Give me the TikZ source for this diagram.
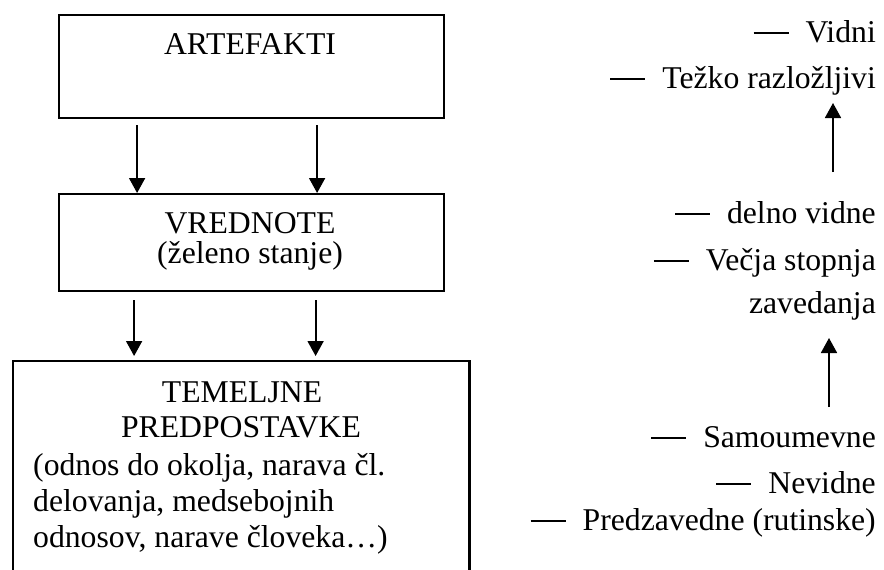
\documentclass[tikz,border=0pt]{standalone}
\usepackage{fontspec}
\setmainfont{Liberation Serif}
\usetikzlibrary{arrows.meta}
\newcommand{\dsh}{\rule[8.5pt]{35pt}{1.4pt}\hspace{17pt}}
\begin{document}
\begin{tikzpicture}[x=1pt,y=-1pt,
  txt/.style={font=\fontsize{31.7}{38}\selectfont, inner sep=0pt},
  boxst/.style={draw, line width=2.2pt, inner sep=0pt, anchor=north west},
  arr/.style={line width=1.8pt, -{Triangle[length=15pt,width=16pt]}}]
\useasboundingbox (0,0) rectangle (884,570);
% boxes
\node[boxst, minimum width=385pt, minimum height=103pt] (art) at (58,14) {};
\node[boxst, minimum width=385pt, minimum height=97pt] (vr) at (58,193) {};
\node[inner sep=0pt, minimum width=456pt, minimum height=215pt, anchor=north west] (tp) at (13,361) {};
\draw[line width=2.2pt] (tp.south west) -- (tp.north west) -- (tp.north east) -- (tp.south east);
% box texts
\node[txt, anchor=base] (t1) at (250,54) {ARTEFAKTI};
\node[txt, anchor=base] (t2) at (250,233) {VREDNOTE};
\node[txt, anchor=base] (t3) at (250,263) {(želeno stanje)};
\node[txt, anchor=base] (t4) at (242,402) {TEMELJNE};
\node[txt, anchor=base] (t5) at (241,437) {PREDPOSTAVKE};
\node[txt, anchor=base west] (t6) at (33,475) {(odnos do okolja, narava čl.};
\node[txt, anchor=base west] (t7) at (33,511) {delovanja, medsebojnih};
\node[txt, anchor=base west] (t8) at (33,547) {odnosov, narave človeka…)};
% arrows between boxes
\draw[arr] ([xshift=-114.5pt,yshift=-6pt]art.south) -- ([xshift=-114.5pt]vr.north);
\draw[arr] ([xshift=65.5pt,yshift=-6pt]art.south) -- ([xshift=65.5pt]vr.north);
\draw[arr] ([xshift=-117.5pt,yshift=-8pt]vr.south) -- ([xshift=-117.5pt,yshift=5pt]tp.north -| vr.south);
\draw[arr] ([xshift=64pt,yshift=-8pt]vr.south) -- ([xshift=64pt,yshift=5pt]tp.north -| vr.south);
% right column
\node[txt, anchor=base east] (r1) at (876,42) {\dsh Vidni};
\node[txt, anchor=base east] (r2) at (876,88) {\dsh Težko razložljivi};
\node[txt, anchor=base east] (r3) at (876,223) {\dsh delno vidne};
\node[txt, anchor=base east] (r4) at (876,270) {\dsh Večja stopnja};
\node[txt, anchor=base east] (r5) at (876,313) {zavedanja};
\node[txt, anchor=base east] (r6) at (876,447) {\dsh Samoumevne};
\node[txt, anchor=base east] (r7) at (876,493) {\dsh Nevidne};
\node[txt, anchor=base east] (r8) at (876,530) {\dsh Predzavedne (rutinske)};
\coordinate (a1s) at (833,172);
\coordinate (a1e) at (833,103);
\coordinate (a2s) at (829,407);
\coordinate (a2e) at (829,338);
\draw[arr] (a1s) -- (a1e);
\draw[arr] (a2s) -- (a2e);
\end{tikzpicture}
\end{document}
